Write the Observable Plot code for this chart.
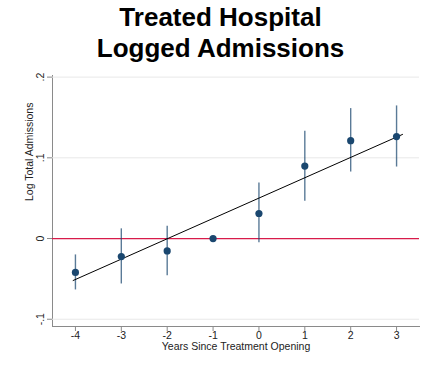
<!DOCTYPE html>
<html>
<head>
<meta charset="utf-8">
<script src="https://cdn.jsdelivr.net/npm/d3@7"></script>
<script src="https://cdn.jsdelivr.net/npm/@observablehq/plot@0.6"></script>
<style>
  body { margin: 0; background: #fff; }
  #wrap { position: relative; width: 437px; height: 368px; overflow: hidden; }
  #title { position: absolute; left: 0; top: 2px; width: 441px; text-align: center;
           font-family: "Liberation Sans", Arial, sans-serif; font-weight: bold; font-size: 26px;
           line-height: 31px; color: #000; }
  #chart { position: absolute; left: 0; top: 0; }
</style>
</head>
<body>
<div id="wrap">
  <div id="chart"></div>
  <div id="title">Treated Hospital<br>Logged Admissions</div>
</div>
<script>
const years = [-4, -3, -2, -1, 0, 1, 2, 3];
const coef  = [-0.042, -0.0224, -0.0153, 0, 0.031, 0.0898, 0.1213, 0.1263];
const ciLow = [-0.0637, -0.0563, -0.046, 0, -0.0053, 0.0463, 0.0824, 0.0886];
const ciHigh= [-0.0203, 0.012, 0.0153, 0, 0.0687, 0.133, 0.161, 0.1643];
const fitX = [-4.05, 3.13];
const fitY = [-0.052, 0.129];
const yTicks = [-0.1, 0, 0.1, 0.2];
const yTickLabels = ["-.1", "0", ".1", ".2"];
const xTicks = [-4, -3, -2, -1, 0, 1, 2, 3];
const xTickLabels = ["-4", "-3", "-2", "-1", "0", "1", "2", "3"];
const xTitle = "Years Since Treatment Opening";
const yTitle = "Log Total Admissions";

const est = years.map((x, i) => ({x, y: coef[i], lo: ciLow[i], hi: ciHigh[i]}));
const ciRows = est.filter(d => d.lo !== d.hi);
const fit = fitX.map((x, i) => ({x, y: fitY[i]}));
const yLab = yTicks.map((v, i) => ({v, t: yTickLabels[i]}));
const xLab = xTicks.map((v, i) => ({v, t: xTickLabels[i]}));
const font = "Liberation Sans, Arial, sans-serif";

const chart = Plot.plot({
  width: 437,
  height: 368,
  marginLeft: 52,
  marginRight: 18,
  marginTop: 75,
  marginBottom: 42,
  style: {background: "#fff", color: "#8a8a8a", fontFamily: font, fontSize: "10.5px"},
  x: {domain: [-4.5, 3.5], ticks: xTicks, tickSize: 5, tickFormat: () => "", label: null, line: true},
  y: {domain: [-0.109, 0.202], ticks: yTicks, tickSize: 5, tickFormat: () => "", label: null, line: true},
  marks: [
    Plot.ruleY(yTicks, {stroke: "#e8e8e8", strokeWidth: 1}),
    Plot.ruleY([0], {stroke: "#d81b4a", strokeWidth: 1.2}),
    Plot.ruleX(ciRows, {x: "x", y1: "lo", y2: "hi", stroke: "#1a476f", strokeOpacity: 0.72, strokeWidth: 1.4}),
    Plot.line(fit, {x: "x", y: "y", stroke: "#000", strokeWidth: 1}),
    Plot.dot(est, {x: "x", y: "y", r: 3.6, fill: "#1a476f", stroke: "none"}),
    Plot.text(yLab, {frameAnchor: "left", y: "v", text: "t", dx: -12, rotate: -90, fill: "#222", fontSize: 10.5, textAnchor: "middle"}),
    Plot.text(xLab, {frameAnchor: "bottom", x: "v", text: "t", dy: 12, fill: "#222", fontSize: 10.5}),
    Plot.text([xTitle], {frameAnchor: "bottom", text: d => d, dy: 23, fill: "#222", fontSize: 10.5}),
    Plot.text([yTitle], {frameAnchor: "left", text: d => d, dx: -23, rotate: -90, fill: "#222", fontSize: 10.5})
  ]
});
document.getElementById("chart").appendChild(chart);
</script>
</body>
</html>
